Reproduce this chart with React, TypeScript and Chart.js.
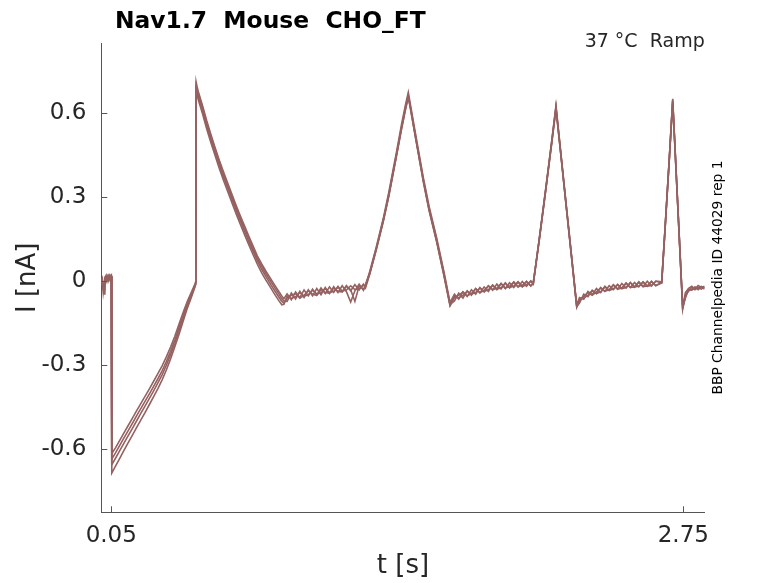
import React, { useEffect, useRef } from 'react';
import Chart from 'chart.js/auto';

// time axis (s), shared by every sweep
const timeS = [
  0.003, 0.008, 0.012, 0.016, 0.020, 0.025, 0.030, 0.035, 0.040, 0.045, 0.050, 0.052,
  0.053, 0.07, 0.09, 0.11, 0.13, 0.15, 0.17, 0.19, 0.21, 0.23, 0.25, 0.27, 0.29, 0.31, 0.33, 0.35, 0.37, 0.39, 0.41, 0.43, 0.445, 0.449,
  0.451, 0.455, 0.46, 0.47, 0.48, 0.50, 0.52, 0.54, 0.56, 0.58, 0.60, 0.62, 0.64, 0.66, 0.68, 0.70, 0.72, 0.74, 0.76, 0.78, 0.80, 0.82, 0.84, 0.855, 0.865,
  0.88, 0.90, 0.92, 0.94, 0.96, 0.98, 1.00, 1.02, 1.04, 1.06, 1.08, 1.10, 1.12, 1.14, 1.16, 1.18, 1.20, 1.22, 1.24, 1.249,
  1.27, 1.30, 1.334, 1.36, 1.397, 1.42, 1.44, 1.452, 1.46, 1.49, 1.523, 1.55, 1.586, 1.62, 1.649,
  1.67, 1.69, 1.71, 1.73, 1.75, 1.77, 1.79, 1.81, 1.83, 1.85, 1.87, 1.89, 1.91, 1.93, 1.95, 1.97, 1.99, 2.01, 2.03, 2.042,
  2.07, 2.10, 2.13, 2.149, 2.17, 2.20, 2.247,
  2.26, 2.28, 2.30, 2.32, 2.34, 2.36, 2.38, 2.40, 2.42, 2.44, 2.46, 2.48, 2.50, 2.52, 2.54, 2.56, 2.58, 2.60, 2.62, 2.648,
  2.665, 2.685, 2.700, 2.72, 2.747,
  2.76, 2.775, 2.79, 2.805, 2.82, 2.835, 2.85,
];

// current (nA), one array per sweep
const sweep1 = [
  0.01, -0.005, -0.04, -0.015, 0.012, 0.02, 0.005, 0.015, 0.022, 0.01, 0.018, 0.012,
  -0.615, -0.595, -0.568, -0.541, -0.515, -0.489, -0.462, -0.436, -0.41, -0.384, -0.357, -0.33, -0.302, -0.27, -0.235, -0.196, -0.153, -0.11, -0.07, -0.036, -0.01, 0.0,
  0.71, 0.695, 0.68, 0.655, 0.63, 0.575, 0.525, 0.478, 0.432, 0.39, 0.35, 0.31, 0.27, 0.232, 0.196, 0.16, 0.125, 0.09, 0.062, 0.036, 0.012, -0.012, -0.035, -0.052, -0.062,
  -0.045, -0.066, -0.038, -0.058, -0.031, -0.052, -0.028, -0.049, -0.024, -0.044, -0.02, -0.04, -0.018, -0.037, -0.015, -0.034, -0.012, -0.031, -0.01, -0.02,
  0.035, 0.12, 0.225, 0.318, 0.465, 0.56, 0.635, 0.675, 0.64, 0.51, 0.37, 0.268, 0.155, 0.035, -0.075,
  -0.046, -0.064, -0.038, -0.054, -0.03, -0.046, -0.022, -0.038, -0.016, -0.032, -0.01, -0.027, -0.006, -0.024, -0.003, -0.02, -0.001, -0.018, 0.001, -0.01,
  0.152, 0.328, 0.508, 0.628, 0.474, 0.255, -0.085,
  -0.058, -0.064, -0.036, -0.048, -0.026, -0.04, -0.018, -0.033, -0.012, -0.028, -0.008, -0.024, -0.004, -0.021, -0.002, -0.019, 0.0, -0.017, 0.001, -0.002,
  0.205, 0.455, 0.652, 0.335, -0.09,
  -0.04, -0.025, -0.018, -0.028, -0.015, -0.022, -0.018,
];
const sweep2 = [
  0.0, 0.01, -0.02, -0.03, 0.0, 0.015, 0.018, 0.0, 0.012, 0.02, 0.008, 0.015,
  -0.635, -0.613, -0.586, -0.559, -0.533, -0.507, -0.48, -0.454, -0.428, -0.402, -0.375, -0.348, -0.32, -0.287, -0.25, -0.21, -0.165, -0.12, -0.077, -0.041, -0.013, -0.004,
  0.70, 0.688, 0.672, 0.646, 0.622, 0.566, 0.516, 0.47, 0.424, 0.381, 0.341, 0.301, 0.262, 0.224, 0.187, 0.151, 0.116, 0.082, 0.053, 0.027, 0.003, -0.021, -0.044, -0.062, -0.07,
  -0.072, -0.042, -0.063, -0.036, -0.058, -0.03, -0.052, -0.026, -0.048, -0.022, -0.044, -0.019, -0.04, -0.016, -0.037, -0.074, -0.034, -0.01, -0.032, -0.012,
  0.03, 0.115, 0.219, 0.31, 0.457, 0.55, 0.625, 0.665, 0.632, 0.502, 0.362, 0.26, 0.147, 0.028, -0.082,
  -0.07, -0.042, -0.06, -0.034, -0.05, -0.026, -0.042, -0.02, -0.036, -0.013, -0.03, -0.008, -0.026, -0.005, -0.022, -0.003, -0.02, -0.001, -0.017, -0.004,
  0.148, 0.322, 0.502, 0.62, 0.468, 0.25, -0.09,
  -0.078, -0.046, -0.055, -0.032, -0.044, -0.022, -0.036, -0.016, -0.03, -0.011, -0.026, -0.007, -0.022, -0.004, -0.02, -0.002, -0.018, 0.0, -0.016, -0.004,
  0.2, 0.45, 0.645, 0.33, -0.096,
  -0.055, -0.03, -0.032, -0.02, -0.03, -0.02, -0.028,
];
const sweep3 = [
  -0.01, 0.005, -0.01, -0.045, -0.02, 0.005, 0.012, 0.02, 0.005, 0.015, 0.02, 0.01,
  -0.655, -0.632, -0.605, -0.578, -0.551, -0.525, -0.498, -0.471, -0.445, -0.418, -0.391, -0.363, -0.334, -0.3, -0.262, -0.221, -0.177, -0.131, -0.085, -0.047, -0.017, -0.008,
  0.69, 0.678, 0.662, 0.637, 0.612, 0.557, 0.507, 0.46, 0.414, 0.372, 0.332, 0.292, 0.252, 0.214, 0.177, 0.141, 0.106, 0.072, 0.043, 0.017, -0.008, -0.032, -0.055, -0.072, -0.078,
  -0.06, -0.05, -0.044, -0.06, -0.05, -0.034, -0.046, -0.05, -0.03, -0.04, -0.042, -0.024, -0.036, -0.038, -0.018, -0.03, -0.072, -0.016, -0.028, -0.026,
  0.025, 0.11, 0.213, 0.303, 0.45, 0.543, 0.618, 0.66, 0.625, 0.495, 0.355, 0.253, 0.14, 0.02, -0.088,
  -0.058, -0.05, -0.038, -0.052, -0.044, -0.026, -0.04, -0.033, -0.016, -0.03, -0.025, -0.008, -0.024, -0.018, -0.002, -0.02, -0.014, 0.0, -0.016, -0.008,
  0.145, 0.32, 0.498, 0.615, 0.465, 0.247, -0.093,
  -0.07, -0.054, -0.04, -0.05, -0.038, -0.024, -0.036, -0.03, -0.013, -0.028, -0.024, -0.006, -0.022, -0.02, -0.003, -0.019, -0.017, -0.001, -0.015, -0.006,
  0.198, 0.447, 0.64, 0.327, -0.1,
  -0.048, -0.035, -0.022, -0.03, -0.022, -0.028, -0.02,
];
const sweep4 = [
  0.005, -0.015, -0.025, -0.01, 0.008, 0.0, 0.02, 0.01, 0.018, 0.005, 0.012, 0.02,
  -0.685, -0.66, -0.632, -0.604, -0.576, -0.549, -0.522, -0.495, -0.468, -0.44, -0.412, -0.383, -0.352, -0.317, -0.277, -0.234, -0.189, -0.141, -0.094, -0.053, -0.02, -0.01,
  0.68, 0.668, 0.65, 0.625, 0.6, 0.546, 0.496, 0.449, 0.403, 0.36, 0.32, 0.28, 0.24, 0.202, 0.165, 0.129, 0.094, 0.06, 0.03, 0.004, -0.02, -0.045, -0.068, -0.084, -0.082,
  -0.052, -0.062, -0.055, -0.04, -0.053, -0.048, -0.032, -0.045, -0.041, -0.026, -0.04, -0.036, -0.022, -0.034, -0.031, -0.016, -0.03, -0.027, -0.014, -0.02,
  0.028, 0.112, 0.216, 0.306, 0.453, 0.546, 0.62, 0.655, 0.628, 0.498, 0.358, 0.256, 0.143, 0.024, -0.085,
  -0.052, -0.06, -0.05, -0.036, -0.046, -0.04, -0.024, -0.036, -0.03, -0.014, -0.028, -0.024, -0.006, -0.022, -0.017, -0.001, -0.018, -0.013, 0.001, -0.006,
  0.15, 0.325, 0.505, 0.622, 0.47, 0.252, -0.088,
  -0.064, -0.06, -0.05, -0.034, -0.044, -0.038, -0.02, -0.032, -0.028, -0.012, -0.026, -0.022, -0.005, -0.02, -0.018, -0.002, -0.017, -0.015, 0.0, -0.005,
  0.202, 0.452, 0.648, 0.332, -0.093,
  -0.06, -0.028, -0.03, -0.025, -0.025, -0.018, -0.025,
];

const xTickVals = [0.05, 2.75];
const xTickLabels = ['0.05', '2.75'];
const yTickVals = [-0.6, -0.3, 0, 0.3, 0.6];
const yTickLabels = ['-0.6', '-0.3', '0', '0.3', '0.6'];

const traceColor = '#956161';
const axisColor = '#555555';
const textColor = '#262626';
const FONT = '"DejaVu Sans", sans-serif';

// tick marks point into the plot, and the free text labels
const decorPlugin = {
  id: 'decor',
  afterDraw(chart: any) {
    const { ctx, chartArea: a, scales } = chart;
    ctx.save();
    ctx.strokeStyle = axisColor;
    ctx.lineWidth = 1;
    ctx.beginPath();
    scales.x.ticks.forEach((t: any) => {
      const px = Math.round(scales.x.getPixelForValue(t.value)) + 0.5;
      ctx.moveTo(px, a.bottom);
      ctx.lineTo(px, a.bottom - 6);
    });
    scales.y.ticks.forEach((t: any) => {
      const py = Math.round(scales.y.getPixelForValue(t.value)) + 0.5;
      ctx.moveTo(a.left, py);
      ctx.lineTo(a.left + 6, py);
    });
    ctx.stroke();

    ctx.fillStyle = '#000';
    ctx.font = `bold 23.4px ${FONT}`;
    ctx.textAlign = 'left';
    ctx.textBaseline = 'alphabetic';
    ctx.fillText('Nav1.7  Mouse  CHO_FT', 115, 27.5);

    ctx.fillStyle = textColor;
    ctx.font = `19px ${FONT}`;
    ctx.textAlign = 'right';
    ctx.fillText('37 °C  Ramp', a.right, 47);

    ctx.font = `26px ${FONT}`;
    ctx.textAlign = 'center';
    ctx.fillText('t [s]', (a.left + a.right) / 2, 573);

    ctx.save();
    ctx.translate(35, (a.top + a.bottom) / 2);
    ctx.rotate(-Math.PI / 2);
    ctx.fillText('I [nA]', 0, 0);
    ctx.restore();

    ctx.save();
    ctx.translate(721.5, 277.5);
    ctx.rotate(-Math.PI / 2);
    ctx.font = `13.8px ${FONT}`;
    ctx.fillStyle = '#000';
    ctx.fillText('BBP Channelpedia ID 44029 rep 1', 0, 0);
    ctx.restore();

    ctx.restore();
  },
};

const App: React.FC = () => {
  const canvasRef = useRef<HTMLCanvasElement>(null);
  const chartRef = useRef<Chart>();

  useEffect(() => {
    if (!canvasRef.current) return;
    const ctx = canvasRef.current.getContext('2d');
    if (!ctx) return;
    if (chartRef.current) chartRef.current.destroy();

    const sweeps = [sweep1, sweep2, sweep3, sweep4];
    chartRef.current = new Chart(ctx, {
      type: 'line',
      data: {
        datasets: sweeps.map((s, k) => ({
          label: `sweep ${k + 1}`,
          data: s.map((v, i) => ({ x: timeS[i], y: v })),
          borderColor: traceColor,
          borderWidth: 1.6,
          pointRadius: 0,
          fill: false,
          tension: 0,
        })),
      },
      options: {
        animation: false,
        responsive: true,
        maintainAspectRatio: false,
        layout: { padding: { left: 0, top: 43.3, right: 73.3, bottom: 0 } },
        plugins: {
          legend: { display: false },
          title: { display: false },
          tooltip: { enabled: false },
        },
        scales: {
          x: {
            type: 'linear',
            min: 0.003,
            max: 2.851,
            grid: { display: false },
            border: { display: true, color: axisColor, width: 1 },
            afterBuildTicks: (scale: any) => {
              scale.ticks = xTickVals.map((v) => ({ value: v }));
            },
            afterFit: (scale: any) => {
              scale.height = 70.7;
            },
            ticks: {
              autoSkip: false,
              maxRotation: 0,
              padding: 2,
              color: textColor,
              font: { family: FONT, size: 23 },
              callback: (_v: any, i: number) => xTickLabels[i],
            },
          },
          y: {
            type: 'linear',
            min: -0.825,
            max: 0.85,
            grid: { display: false },
            border: { display: true, color: axisColor, width: 1 },
            afterBuildTicks: (scale: any) => {
              scale.ticks = yTickVals.map((v) => ({ value: v }));
            },
            afterFit: (scale: any) => {
              scale.width = 101.3;
            },
            ticks: {
              autoSkip: false,
              padding: 7,
              color: textColor,
              font: { family: FONT, size: 23 },
              callback: (_v: any, i: number) => yTickLabels[i],
            },
          },
        },
      },
      plugins: [decorPlugin],
    });

    return () => {
      if (chartRef.current) {
        chartRef.current.destroy();
        chartRef.current = undefined;
      }
    };
  }, []);

  return (
    <div style={{ position: 'absolute', left: 0, top: 0, width: 778, height: 583, background: '#fff' }}>
      <canvas ref={canvasRef} />
    </div>
  );
};

export default App;
